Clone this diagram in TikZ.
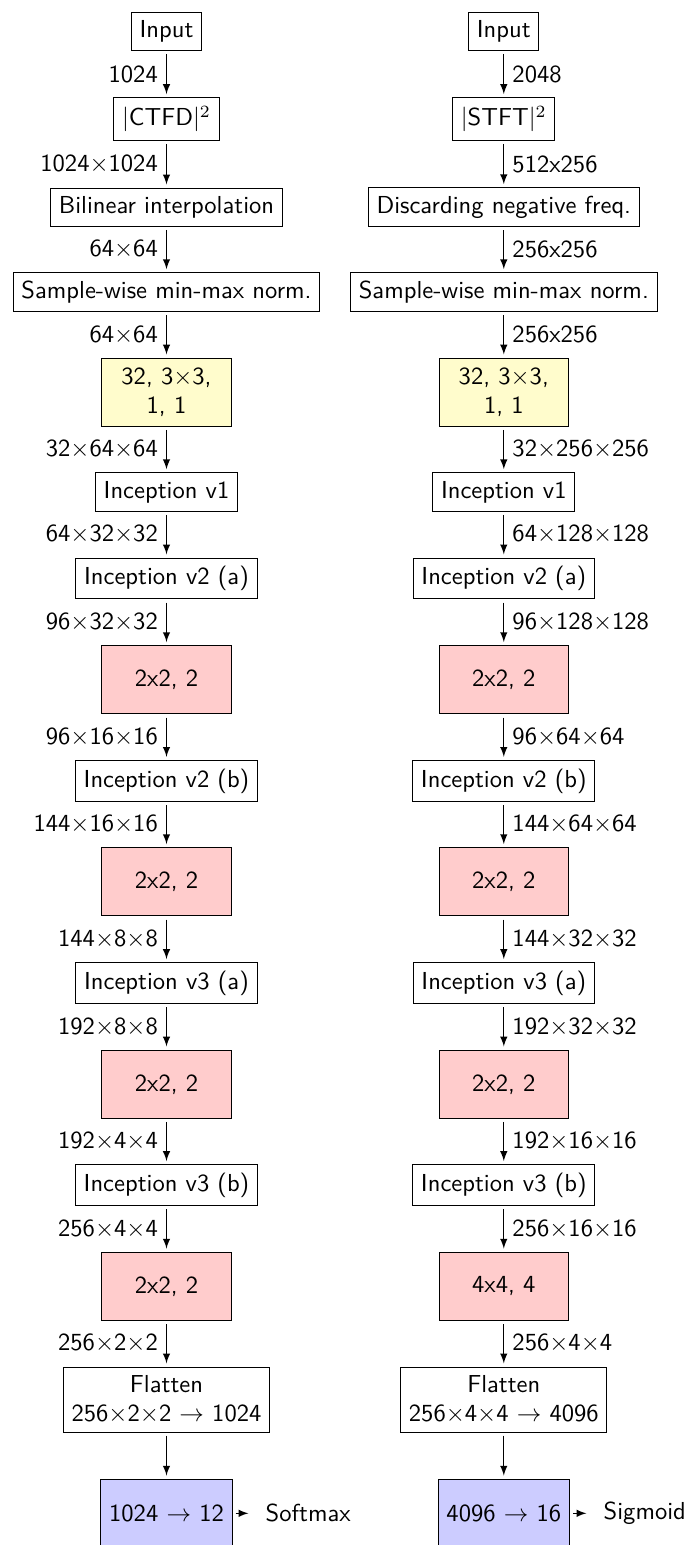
\documentclass[tikz,border=0pt]{standalone}
\begin{document}
\begin{tikzpicture}[x=0.4069pt, y=-0.4069pt, font=\sffamily, >=latex,
  box/.style={draw, line width=0.4pt, outer sep=1.5pt, align=center},
  conv/.style={box, fill=yellow!20, minimum width=52.5pt, minimum height=27.7pt},
  pool/.style={box, fill=red!20, minimum width=52.5pt, minimum height=27.7pt},
  dense/.style={box, fill=blue!20, minimum height=27.7pt},
  flow/.style={->},
  outflow/.style={->, shorten >=3.5pt},
  side/.style={anchor=west}
]
\useasboundingbox (0,0) rectangle (686,1545);

% ---------------- left branch: CTFD ----------------
\node[box]   (l1)  at (166.5,31.2)   {Input};
\node[box]   (l2)  at (166.5,119)    {$|$CTFD$|^2$};
\node[box]   (l3)  at (166.5,207.2)  {Bilinear interpolation};
\node[box]   (l4)  at (166.5,292.2)  {Sample-wise min-max norm.};
\node[conv]  (l5)  at (166.5,392.2)  {32, 3$\times$3,\\1, 1};
\node[box]   (l6)  at (166.5,492)    {Inception v1};
\node[box]   (l7)  at (166.5,578.5)  {Inception v2 (a)};
\node[pool]  (l8)  at (166.5,679.8)  {2x2, 2};
\node[box]   (l9)  at (166.5,781)    {Inception v2 (b)};
\node[pool]  (l10) at (166.5,881.8)  {2x2, 2};
\node[box]   (l11) at (166.5,983.2)  {Inception v3 (a)};
\node[pool]  (l12) at (166.5,1084.2) {2x2, 2};
\node[box]   (l13) at (166.5,1185.2) {Inception v3 (b)};
\node[pool]  (l14) at (166.5,1286.3) {2x2, 2};
\node[box]   (l15) at (166.5,1399.5) {Flatten\\256$\times$2$\times$2 $\rightarrow$ 1024};
\node[dense] (l16) at (166.5,1513.3) {1024 $\rightarrow$ 12};
\node[side]  (lout) at (257,1513.3)  {Softmax};

\draw[flow] (l1)  -- node[left] {1024} (l2);
\draw[flow] (l2)  -- node[left] {1024$\times$1024} (l3);
\draw[flow] (l3)  -- node[left] {64$\times$64} (l4);
\draw[flow] (l4)  -- node[left] {64$\times$64} (l5);
\draw[flow] (l5)  -- node[left] {32$\times$64$\times$64} (l6);
\draw[flow] (l6)  -- node[left] {64$\times$32$\times$32} (l7);
\draw[flow] (l7)  -- node[left] {96$\times$32$\times$32} (l8);
\draw[flow] (l8)  -- node[left] {96$\times$16$\times$16} (l9);
\draw[flow] (l9)  -- node[left] {144$\times$16$\times$16} (l10);
\draw[flow] (l10) -- node[left] {144$\times$8$\times$8} (l11);
\draw[flow] (l11) -- node[left] {192$\times$8$\times$8} (l12);
\draw[flow] (l12) -- node[left] {192$\times$4$\times$4} (l13);
\draw[flow] (l13) -- node[left] {256$\times$4$\times$4} (l14);
\draw[flow] (l14) -- node[left] {256$\times$2$\times$2} (l15);
\draw[flow] (l15) -- (l16);
\draw[outflow] (l16) -- (lout);

% ---------------- right branch: STFT ----------------
\node[box]   (r1)  at (503.8,31.2)   {Input};
\node[box]   (r2)  at (503.8,119)    {$|$STFT$|^2$};
\node[box]   (r3)  at (503.8,207.2)  {Discarding negative freq.};
\node[box]   (r4)  at (503.8,292.2)  {Sample-wise min-max norm.};
\node[conv]  (r5)  at (503.8,392.2)  {32, 3$\times$3,\\1, 1};
\node[box]   (r6)  at (503.8,492)    {Inception v1};
\node[box]   (r7)  at (503.8,578.5)  {Inception v2 (a)};
\node[pool]  (r8)  at (503.8,679.8)  {2x2, 2};
\node[box]   (r9)  at (503.8,781)    {Inception v2 (b)};
\node[pool]  (r10) at (503.8,881.8)  {2x2, 2};
\node[box]   (r11) at (503.8,983.2)  {Inception v3 (a)};
\node[pool]  (r12) at (503.8,1084.2) {2x2, 2};
\node[box]   (r13) at (503.8,1185.2) {Inception v3 (b)};
\node[pool]  (r14) at (503.8,1286.3) {4x4, 4};
\node[box]   (r15) at (503.8,1399.5) {Flatten\\256$\times$4$\times$4 $\rightarrow$ 4096};
\node[dense] (r16) at (503.8,1513.3) {4096 $\rightarrow$ 16};
\node[side]  (rout) at (595,1513.3)  {Sigmoid};

\draw[flow] (r1)  -- node[right] {2048} (r2);
\draw[flow] (r2)  -- node[right] {512x256} (r3);
\draw[flow] (r3)  -- node[right] {256x256} (r4);
\draw[flow] (r4)  -- node[right] {256x256} (r5);
\draw[flow] (r5)  -- node[right] {32$\times$256$\times$256} (r6);
\draw[flow] (r6)  -- node[right] {64$\times$128$\times$128} (r7);
\draw[flow] (r7)  -- node[right] {96$\times$128$\times$128} (r8);
\draw[flow] (r8)  -- node[right] {96$\times$64$\times$64} (r9);
\draw[flow] (r9)  -- node[right] {144$\times$64$\times$64} (r10);
\draw[flow] (r10) -- node[right] {144$\times$32$\times$32} (r11);
\draw[flow] (r11) -- node[right] {192$\times$32$\times$32} (r12);
\draw[flow] (r12) -- node[right] {192$\times$16$\times$16} (r13);
\draw[flow] (r13) -- node[right] {256$\times$16$\times$16} (r14);
\draw[flow] (r14) -- node[right] {256$\times$4$\times$4} (r15);
\draw[flow] (r15) -- (r16);
\draw[outflow] (r16) -- (rout);
\end{tikzpicture}
\end{document}
